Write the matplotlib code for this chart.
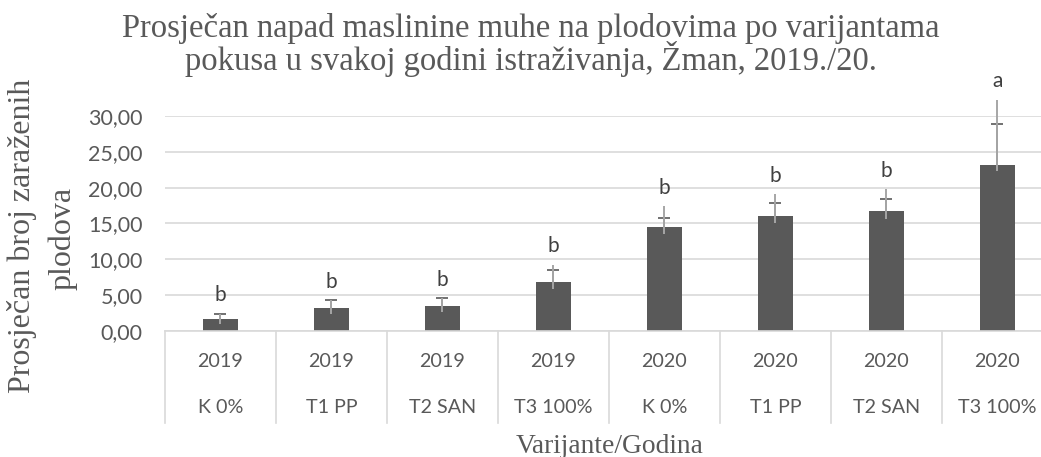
import matplotlib.pyplot as plt
from matplotlib.ticker import FuncFormatter

years = ["2019", "2019", "2019", "2019", "2020", "2020", "2020", "2020"]
variants = ["K 0%", "T1 PP", "T2 SAN", "T3 100%", "K 0%", "T1 PP", "T2 SAN", "T3 100%"]
means = [1.63, 3.15, 3.50, 6.80, 14.50, 16.00, 16.70, 23.20]
err_low = [0.60, 0.80, 0.90, 0.90, 0.90, 1.00, 1.10, 0.90]
err_high = [0.77, 1.11, 1.08, 1.70, 1.20, 1.80, 1.70, 5.70]
err_range = [0.77, 1.11, 1.08, 2.46, 2.90, 3.10, 3.10, 9.10]
letters = ["b", "b", "b", "b", "b", "b", "b", "a"]

DARK = "#595959"
LIGHT = "#a6a6a6"
GRID = "#d9d9d9"
SANS = "Lato"
SERIF = "Liberation Serif"

fig = plt.figure(figsize=(10.41, 4.57), dpi=100)
ax = fig.add_axes([0.1585, 0.2757, 0.853, 0.4705])

x = [i + 0.5 for i in range(len(means))]
ax.bar(x, means, width=0.31, color=DARK, zorder=2)

# dark error bars with caps, light whisker line to the upper bound
ax.errorbar(x, means, yerr=[err_low, err_high], fmt="none", ecolor=DARK,
            elinewidth=1.2, capsize=4.5, capthick=1.2, zorder=3, clip_on=False)
ax.errorbar(x, means, yerr=[err_low, err_range], fmt="none", ecolor=LIGHT,
            elinewidth=1.4, capsize=0, zorder=4, clip_on=False)

for xi, m, e, lab in zip(x, means, err_range, letters):
    ax.annotate(lab, (xi, m + e), xytext=(0, 6), textcoords="offset points",
                ha="center", va="bottom", fontsize=15, color="#404040",
                family=SANS, annotation_clip=False)

ax.set_xlim(0, 8)
ax.set_ylim(0, 30)
ax.set_yticks(range(0, 31, 5))
ax.yaxis.set_major_formatter(FuncFormatter(lambda v, p: f"{v:.2f}".replace(".", ",")))
ax.grid(axis="y", color=GRID, linewidth=1.2, zorder=0)
ax.set_axisbelow(True)
for s in ["top", "right", "left"]:
    ax.spines[s].set_visible(False)
ax.spines["bottom"].set_color(GRID)
ax.spines["bottom"].set_linewidth(1.2)
ax.tick_params(axis="y", length=0, pad=16, labelsize=15.5, labelcolor=DARK)
ax.tick_params(axis="x", length=0, labelbottom=False)
for lbl in ax.get_yticklabels():
    lbl.set_family(SANS)

# category table under the axis
xt = ax.get_xaxis_transform()
for i in range(len(means) + 1):
    ax.plot([i, i], [0, -0.43], transform=xt, color=GRID, linewidth=1.2,
            clip_on=False)
for xi, yr, v in zip(x, years, variants):
    ax.text(xi, -0.144, yr, transform=xt, ha="center", va="center",
            fontsize=14.2, color=DARK, family=SANS)
    ax.text(xi, -0.358, v, transform=xt, ha="center", va="center",
            fontsize=14.2, color=DARK, family=SANS)

fig.text(0.51, 0.919, "Prosječan napad maslinine muhe na plodovima po varijantama",
         ha="center", va="baseline", fontsize=23.5, color=DARK, family=SERIF)
fig.text(0.51, 0.847, "pokusa u svakoj godini istraživanja, Žman, 2019./20.",
         ha="center", va="baseline", fontsize=23.5, color=DARK, family=SERIF)
fig.text(0.021, 0.483, "Prosječan broj zaraženih", rotation=90,
         ha="center", va="center", fontsize=23, color=DARK, family=SERIF)
fig.text(0.0605, 0.478, "plodova", rotation=90,
         ha="center", va="center", fontsize=23, color=DARK, family=SERIF)
fig.text(0.586, 0.009, "Varijante/Godina", ha="center", va="baseline",
         fontsize=19.8, color=DARK, family=SERIF)

fig.savefig("out.png", dpi=100)
